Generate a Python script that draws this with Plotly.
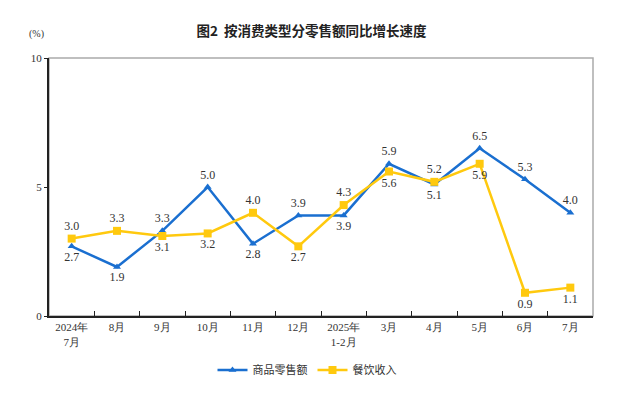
import plotly.graph_objects as go

categories = ["2024年<br>7月", "8月", "9月", "10月", "11月", "12月",
              "2025年<br>1-2月", "3月", "4月", "5月", "6月", "7月"]
retail = [2.7, 1.9, 3.3, 5.0, 2.8, 3.9, 3.9, 5.9, 5.1, 6.5, 5.3, 4.0]
catering = [3.0, 3.3, 3.1, 3.2, 4.0, 2.7, 4.3, 5.6, 5.2, 5.9, 0.9, 1.1]
retail_pos = ["bottom center", "bottom center", "top center", "top center",
              "bottom center", "top center", "bottom center", "top center",
              "bottom center", "top center", "top center", "top center"]
catering_pos = ["top center", "top center", "bottom center", "bottom center",
                "top center", "bottom center", "top center", "bottom center",
                "top center", "bottom center", "bottom center", "bottom center"]

BLUE = "#1a6fd0"
YELLOW = "#ffc90e"
serif = "Liberation Serif"
cjk = "Noto Sans CJK SC"

# the page body adds an 8px offset; figure is sized/placed to compensate
OFF = 8
W, H = 624 - OFF, 396 - OFF
L, T = 49 - OFF, 58 - OFF
R, B = 624 - 593, 396 - 316
PW, PH = W - L - R, H - T - B

fig = go.Figure()
fig.add_trace(go.Scatter(
    x=categories, y=retail, name="商品零售额", mode="lines+markers+text",
    line=dict(color=BLUE, width=2.5),
    marker=dict(symbol="triangle-up", size=7, color=BLUE),
    text=[f"{v:.1f}" for v in retail], textposition=retail_pos,
    textfont=dict(family=serif, size=12, color="#333"),
))
fig.add_trace(go.Scatter(
    x=categories, y=catering, name="餐饮收入", mode="lines+markers+text",
    line=dict(color=YELLOW, width=2.5),
    marker=dict(symbol="square", size=8, color=YELLOW),
    text=[f"{v:.1f}" for v in catering], textposition=catering_pos,
    textfont=dict(family=serif, size=12, color="#333"),
))

fig.add_shape(type="rect", xref="paper", yref="paper", x0=0, y0=0, x1=1, y1=1,
              line=dict(color="#aaaaaa", width=1.5), layer="below")

fig.update_layout(
    width=W, height=H,
    margin=dict(l=L, r=R, t=T, b=B),
    paper_bgcolor="white", plot_bgcolor="white",
    title=dict(text="<b>图2  按消费类型分零售额同比增长速度</b>", x=(311.5 - OFF) / W, xanchor="center",
               y=1 - (31 - OFF) / H, yanchor="middle",
               font=dict(family=cjk, size=13.5, color="#222")),
    xaxis=dict(type="category", showgrid=False, showline=True, linecolor="#222", linewidth=2,
               ticks="inside", tickson="boundaries", ticklen=5, tickcolor="#222", tickwidth=1,
               tickfont=dict(family=serif, size=11, color="#333"), range=[-0.5, 11.5]),
    yaxis=dict(range=[0, 10], tickvals=[0, 5, 10], showgrid=False, showline=True,
               linecolor="#222", linewidth=2, ticks="outside", ticklen=3, tickcolor="#222",
               tickfont=dict(family=serif, size=11, color="#333"), zeroline=False),
    legend=dict(orientation="h", x=(307 - 49) / PW, xanchor="center",
                y=-(370 - 316) / PH, yanchor="middle",
                font=dict(family=cjk, size=11, color="#333"), itemwidth=30,
                tracegroupgap=0),
    showlegend=True,
    annotations=[dict(text="(%)", xref="paper", yref="paper", x=(36 - 49) / PW,
                      y=1 + (58 - 34) / PH,
                      xanchor="center", yanchor="middle", showarrow=False,
                      font=dict(family=serif, size=10, color="#333"))],
)

fig.write_html("out.html")
